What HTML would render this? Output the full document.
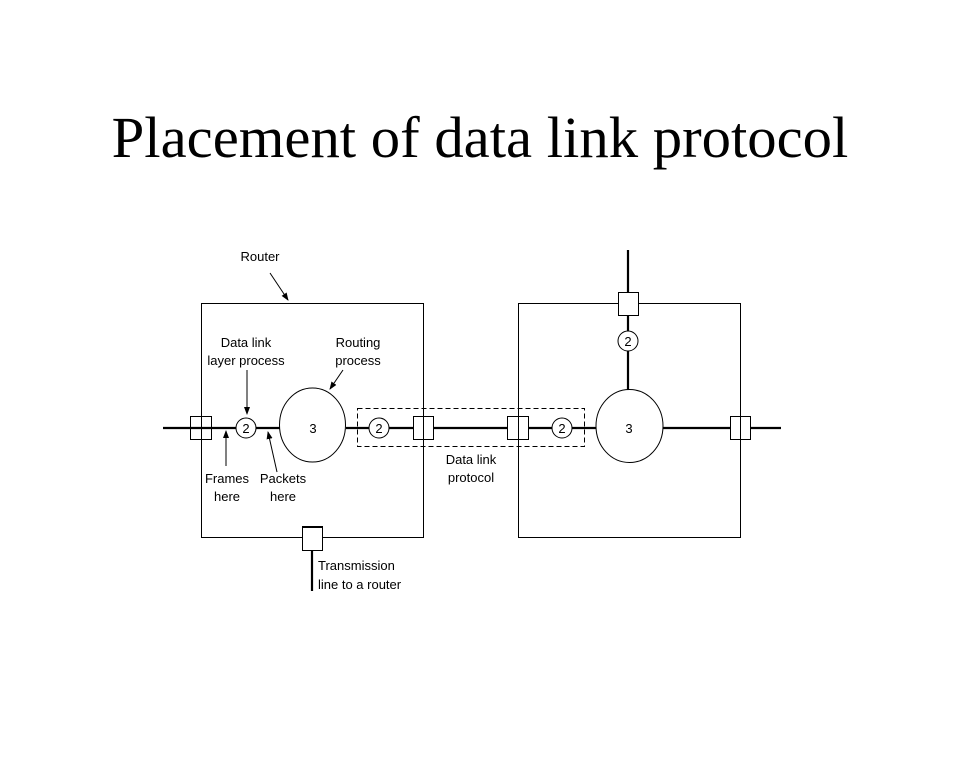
<!DOCTYPE html>
<html><head><style>
body{margin:0;background:#fff;}
svg{display:block}
</style></head><body>
<svg width="960" height="768" viewBox="0 0 960 768" xmlns="http://www.w3.org/2000/svg">
<defs>
<marker id="ah" markerWidth="8" markerHeight="8" refX="7" refY="4" orient="auto" markerUnits="userSpaceOnUse">
<path d="M0,1 L8,4 L0,7 Z" fill="#000"/>
</marker>
</defs>
<text x="480" y="157" text-anchor="middle" font-family="Liberation Serif, serif" font-size="58.7" fill="#000">Placement of data link protocol</text>
<g fill="none" stroke="#000" stroke-width="1">
<rect x="201.5" y="303.5" width="222" height="234"/>
<rect x="518.5" y="303.5" width="222" height="234"/>
<rect x="357.5" y="408.5" width="227" height="38" stroke-dasharray="5,3"/>
</g>
<g stroke="#000" stroke-width="2.2">
<line x1="163" y1="428" x2="280" y2="428"/>
<line x1="346" y1="428" x2="596" y2="428"/>
<line x1="663" y1="428" x2="781" y2="428"/>
<line x1="628" y1="250" x2="628" y2="390"/>
<line x1="312" y1="550" x2="312" y2="591"/>
</g>
<g fill="#fff" stroke="#000" stroke-width="1">
<rect x="413.5" y="416.5" width="20" height="23"/>
<rect x="507.5" y="416.5" width="21" height="23"/>
<rect x="730.5" y="416.5" width="20" height="23"/>
<rect x="618.5" y="292.5" width="20" height="23"/>
<rect x="302.5" y="527.5" width="20" height="23"/>
</g>
<rect x="190.5" y="416.5" width="21" height="23" fill="none" stroke="#000"/>
<g stroke="#000" stroke-width="1">
<line x1="423.5" y1="416" x2="423.5" y2="440"/>
<line x1="518.5" y1="416" x2="518.5" y2="440"/>
<line x1="740.5" y1="416" x2="740.5" y2="440"/>
</g>
<g fill="#fff" stroke="#000" stroke-width="1">
<ellipse cx="312.5" cy="425" rx="33" ry="37"/>
<ellipse cx="629.5" cy="426" rx="33.5" ry="36.5"/>
<circle cx="246" cy="428" r="10"/>
<circle cx="379" cy="428" r="10"/>
<circle cx="562" cy="428" r="10"/>
<circle cx="628" cy="341" r="10"/>
</g>
<line x1="302" y1="527" x2="323" y2="527" stroke="#000" stroke-width="2"/>
<g font-family="Liberation Sans, sans-serif" font-size="13" fill="#000" text-anchor="middle">
<text x="246" y="433">2</text>
<text x="379" y="433">2</text>
<text x="562" y="433">2</text>
<text x="628" y="346">2</text>
<text x="313" y="433">3</text>
<text x="629" y="433">3</text>
<text x="260" y="261">Router</text>
<text x="246" y="347">Data link</text>
<text x="246" y="365">layer process</text>
<text x="358" y="347">Routing</text>
<text x="358" y="365">process</text>
<text x="227" y="483">Frames</text>
<text x="227" y="501">here</text>
<text x="283" y="483">Packets</text>
<text x="283" y="501">here</text>
<text x="471" y="464">Data link</text>
<text x="471" y="482">protocol</text>
<text x="318" y="570" text-anchor="start">Transmission</text>
<text x="318" y="589" text-anchor="start">line to a router</text>
</g>
<g stroke="#000" stroke-width="1" marker-end="url(#ah)">
<line x1="270" y1="273" x2="288" y2="300"/>
<line x1="247" y1="370" x2="247" y2="414"/>
<line x1="226" y1="466" x2="226" y2="431"/>
<line x1="277" y1="472" x2="268" y2="432"/>
<line x1="343" y1="370" x2="330" y2="389"/>
</g>
</svg>
</body></html>
